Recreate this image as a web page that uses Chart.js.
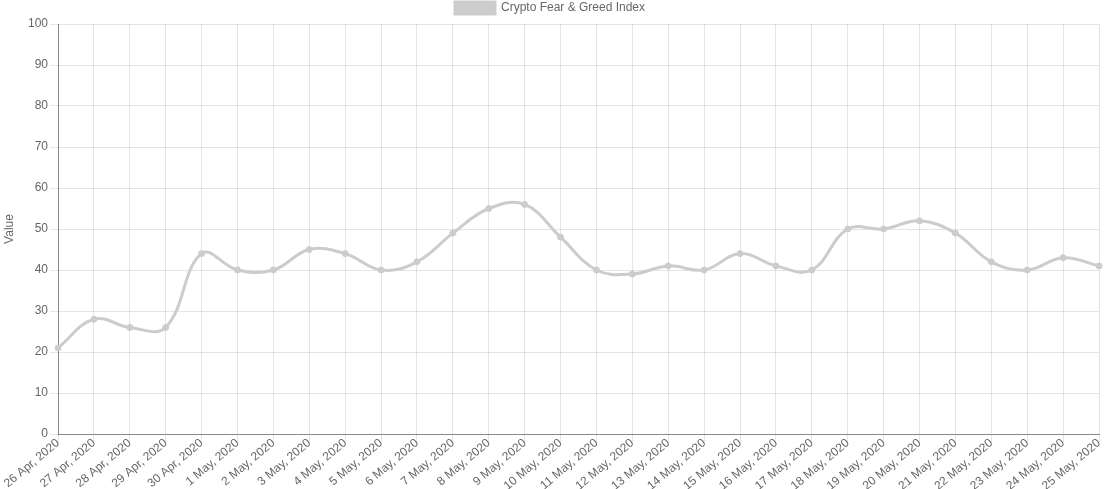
<!DOCTYPE html>
<html>
<head>
<meta charset="utf-8">
<script src="https://cdn.jsdelivr.net/npm/chart.js@4/dist/chart.umd.min.js"></script>
<style>
  html, body { margin: 0; padding: 0; background: #fff; }
  #wrap { width: 1104px; height: 489px; overflow: hidden; }
</style>
</head>
<body>
<div id="wrap"><canvas id="chart"></canvas></div>
<script>
'use strict'

const labels = ['26 Apr, 2020', '27 Apr, 2020', '28 Apr, 2020', '29 Apr, 2020', '30 Apr, 2020',
    '1 May, 2020', '2 May, 2020', '3 May, 2020', '4 May, 2020', '5 May, 2020', '6 May, 2020',
    '7 May, 2020', '8 May, 2020', '9 May, 2020', '10 May, 2020', '11 May, 2020', '12 May, 2020',
    '13 May, 2020', '14 May, 2020', '15 May, 2020', '16 May, 2020', '17 May, 2020', '18 May, 2020',
    '19 May, 2020', '20 May, 2020', '21 May, 2020', '22 May, 2020', '23 May, 2020', '24 May, 2020',
    '25 May, 2020'];
const values = [21, 28, 26, 26, 44, 40, 40, 45, 44, 40, 42, 49, 55, 56, 48, 40, 39, 41, 40, 44,
    41, 40, 50, 50, 52, 49, 42, 40, 43, 41];
const seriesName = 'Crypto Fear & Greed Index';

Chart.defaults.font.family = '"Liberation Sans", Arial, sans-serif';
Chart.defaults.font.size = 12;
Chart.defaults.color = '#666';

const ctx = document.getElementById('chart');
new Chart(ctx, {
    type: 'line',
    data: {
        labels: labels,
        datasets: [{
            label: seriesName,
            data: values,
            borderColor: 'rgb(204,204,204)',
            backgroundColor: 'rgb(204,204,204)',
            borderWidth: 3,
            pointRadius: 3,
            pointBorderWidth: 1,
            tension: 0.4,
            fill: false
        }]
    },
    options: {
        responsive: true,
        maintainAspectRatio: false,
        animation: false,
        layout: { padding: { top: -8, right: 4 } },
        plugins: {
            legend: {
                labels: { boxWidth: 40, boxHeight: 12, padding: 10 }
            },
            tooltip: { enabled: false }
        },
        scales: {
            x: {
                grid: { color: 'rgba(0,0,0,0.1)', tickLength: 8 },
                border: { color: 'rgba(0,0,0,0.4)' },
                ticks: { maxRotation: 40, minRotation: 40, autoSkip: false, padding: -6 },
                afterFit: function(axis){
                    axis.height = 55;
                    axis.paddingRight = 0;
                    axis.paddingLeft = 0;
                }
            },
            y: {
                min: 0,
                max: 100,
                grid: { color: 'rgba(0,0,0,0.1)', tickLength: 8 },
                border: { color: 'rgba(0,0,0,0.4)' },
                ticks: { stepSize: 10, padding: 2 },
                title: { display: true, text: 'Value', padding: 2 },
                afterFit: function(axis){
                    axis.width = 58;
                }
            }
        }
    }
});
</script>
</body>
</html>
